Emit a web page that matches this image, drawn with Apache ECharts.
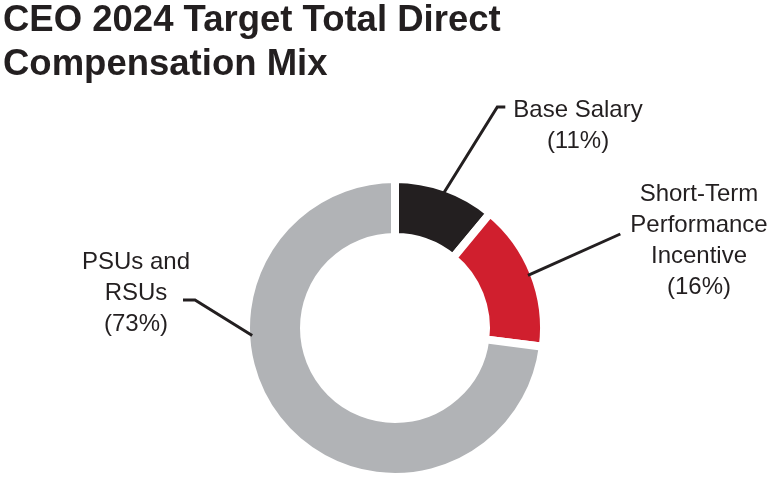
<!DOCTYPE html>
<html>
<head>
<meta charset="utf-8">
<script src="https://cdn.jsdelivr.net/npm/echarts@6/dist/echarts.min.js"></script>
<style>
    html, body { margin: 0; padding: 0; background: #fff; }
    #mix { width: 770px; height: 483px; }
</style>
</head>
<body>
<div id="mix"></div>
<script>
    // slices, clockwise from 12 o'clock
    var categories = ['Base Salary', 'Short-Term\nPerformance\nIncentive', 'PSUs and\nRSUs']
    var shares = [11, 16, 73]
    var sliceColors = ['#231f20', '#d01f2e', '#b1b3b6']

    // where each label block sits: [center x, top y]
    var labelSpots = [[578, 95], [699, 179], [136, 247]]

    var CX = 395, CY = 328, R_OUT = 145

    var myChart = echarts.init(document.getElementById('mix'))

    var total = shares.reduce(function(a, b) { return a + b }, 0)
    var midAngles = []
    var acc = 0
    shares.forEach(function(v) {
        midAngles.push((acc + v / 2) / total * 360)
        acc += v
    })

    var ringData = categories.map(function(name, i) {
        return {
            name: name,
            value: shares[i],
            itemStyle: { color: sliceColors[i] }
        }
    })
    // same slices again, invisible, only to carry labels above the ring
    var labelData = categories.map(function(name, i) {
        return { name: name, value: shares[i] }
    })

    // point just inside the visible outer rim, angle clockwise from top
    function rim(deg) {
        var a = deg * Math.PI / 180
        var r = R_OUT - 2
        return [CX + r * Math.sin(a), CY - r * Math.cos(a)]
    }

    let option = {
        animation: false,
        title: {
            text: 'CEO 2024 Target Total Direct\nCompensation Mix',
            left: 3,
            top: -1,
            padding: 0,
            textStyle: {
                fontFamily: 'Liberation Sans',
                fontWeight: 'bold',
                fontSize: 36.5,
                lineHeight: 44,
                color: '#231f20'
            }
        },
        series: [{
            type: 'pie',
            center: [CX, CY],
            radius: [91, 149],
            startAngle: 90,
            clockwise: true,
            emphasis: { disabled: true },
            silent: true,
            itemStyle: {
                borderColor: '#fff',
                borderWidth: 8
            },
            label: { show: false },
            labelLine: { show: false },
            data: ringData
        }, {
            type: 'pie',
            z: 5,
            center: [CX, CY],
            radius: [95, 145],
            startAngle: 90,
            clockwise: true,
            avoidLabelOverlap: false,
            emphasis: { disabled: true },
            silent: true,
            itemStyle: { color: 'rgba(0,0,0,0)' },
            label: {
                show: true,
                position: 'outside',
                fontFamily: 'Liberation Sans',
                fontSize: 24,
                lineHeight: 31,
                color: '#231f20',
                formatter: function(p) {
                    return p.name + '\n(' + p.value + '%)'
                }
            },
            labelLine: {
                show: true,
                lineStyle: { color: '#231f20', width: 3 }
            },
            labelLayout: function(params) {
                var i = params.dataIndex
                var x = labelSpots[i][0], y = labelSpots[i][1]
                var w = params.labelRect.width
                var pts
                if (i === 0) {
                    pts = [rim(midAngles[0]), [x - w / 2 - 16, y + 12], [x - w / 2 - 8, y + 12]]
                } else if (i === 1) {
                    pts = [rim(midAngles[1]), [x - w / 2 - 10, y + 55]]
                } else {
                    pts = [rim(267), [x + 59, y + 53], [x + 47, y + 53]]
                }
                return {
                    x: x,
                    y: y,
                    align: 'center',
                    verticalAlign: 'top',
                    labelLinePoints: pts
                }
            },
            data: labelData
        }]
    }
    myChart.setOption(option)
</script>
</body>
</html>
